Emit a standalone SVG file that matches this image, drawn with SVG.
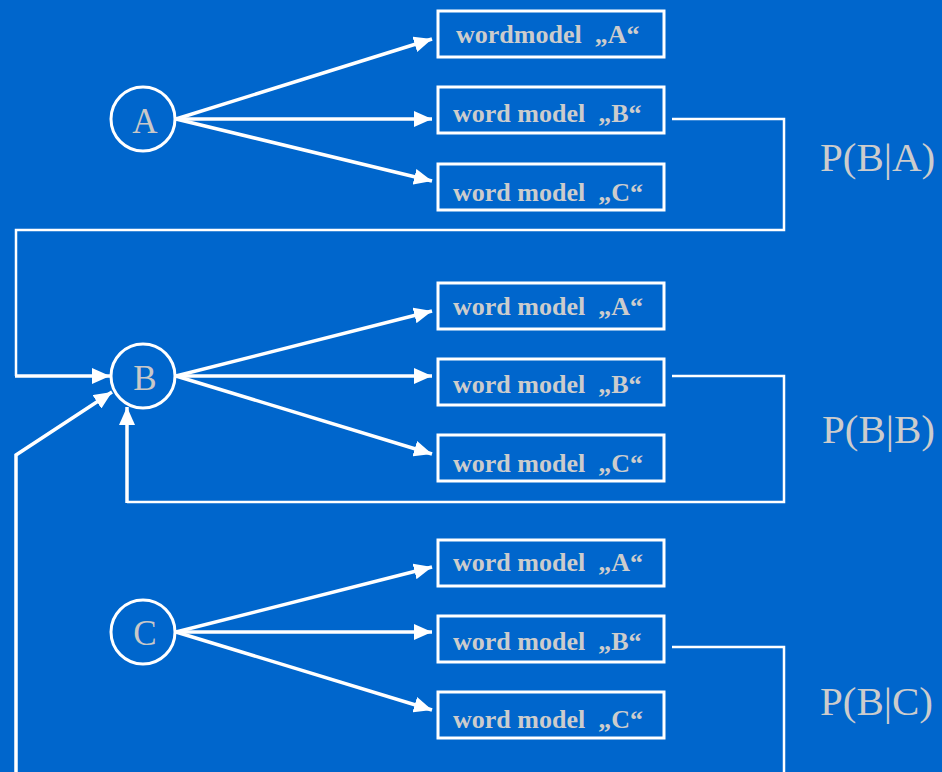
<svg xmlns="http://www.w3.org/2000/svg" width="942" height="772" viewBox="0 0 942 772">
<style>
.bg{fill:#0066CC}
.box{fill:none;stroke:#FFFFFF;stroke-width:3}
.circ{fill:none;stroke:#FFFFFF;stroke-width:3}
.lbl{font-family:"Liberation Serif",serif;font-weight:bold;font-size:26px;fill:#CCCCCC}
.cl{font-family:"Liberation Serif",serif;font-size:35px;fill:#C8C8C8;text-anchor:middle}
.pl{font-family:"Liberation Serif",serif;font-size:41px;fill:#CCCCCC}
.arr{stroke:#FFFFFF;stroke-width:3.5;fill:none;marker-end:url(#ah)}
.ln{stroke:#FFFFFF;stroke-width:2.5;fill:none}
</style>
<defs>
<marker id="ah" markerUnits="userSpaceOnUse" markerWidth="19" markerHeight="16" refX="18" refY="8" orient="auto">
<path d="M0,0 L18,8 L0,16 Z" fill="#FFFFFF"/>
</marker>
</defs>
<rect class="bg" x="0" y="0" width="942" height="772"/>
<g id="connectors">
<line class="arr" x1="176" y1="119" x2="432" y2="39"/>
<line class="arr" x1="176" y1="119" x2="432" y2="119"/>
<line class="arr" x1="176" y1="119" x2="432" y2="181"/>
<line class="arr" x1="176" y1="376" x2="432" y2="311"/>
<line class="arr" x1="176" y1="376" x2="432" y2="376"/>
<line class="arr" x1="176" y1="376" x2="432" y2="454"/>
<line class="arr" x1="176" y1="632" x2="432" y2="567"/>
<line class="arr" x1="176" y1="632" x2="432" y2="632"/>
<line class="arr" x1="176" y1="632" x2="432" y2="710"/>
<polyline class="ln" points="672,119 784,119 784,230 16,230 16,376"/>
<line class="arr" x1="15" y1="376" x2="110" y2="376"/>
<polyline class="ln" points="672,376 784,376 784,502 127,502"/>
<line class="arr" x1="127" y1="503" x2="127" y2="407"/>
<polyline class="ln" points="672,647 784,647 784,772"/>
<polyline class="arr" points="16,772 16,455 112,392"/>
</g>
<g id="nodeA"><circle class="circ" cx="143" cy="119" r="32"/><text class="cl" x="145" y="133">A</text></g>
<g id="nodeB"><circle class="circ" cx="143" cy="376" r="32"/><text class="cl" x="145" y="390">B</text></g>
<g id="nodeC"><circle class="circ" cx="143" cy="632" r="32"/><text class="cl" x="145" y="645">C</text></g>
<g id="boxA1"><rect class="box" x="438" y="11" width="226" height="46"/><text class="lbl" x="456" y="43" xml:space="preserve">wordmodel  „A“</text></g>
<g id="boxB1"><rect class="box" x="438" y="87" width="226" height="46"/><text class="lbl" x="453" y="122" xml:space="preserve">word model  „B“</text></g>
<g id="boxC1"><rect class="box" x="438" y="164" width="226" height="46"/><text class="lbl" x="453" y="201" xml:space="preserve">word model  „C“</text></g>
<g id="boxA2"><rect class="box" x="438" y="283" width="226" height="46"/><text class="lbl" x="453" y="315" xml:space="preserve">word model  „A“</text></g>
<g id="boxB2"><rect class="box" x="438" y="359" width="226" height="46"/><text class="lbl" x="453" y="393" xml:space="preserve">word model  „B“</text></g>
<g id="boxC2"><rect class="box" x="438" y="435" width="226" height="46"/><text class="lbl" x="453" y="472" xml:space="preserve">word model  „C“</text></g>
<g id="boxA3"><rect class="box" x="438" y="540" width="226" height="46"/><text class="lbl" x="453" y="571" xml:space="preserve">word model  „A“</text></g>
<g id="boxB3"><rect class="box" x="438" y="616" width="226" height="46"/><text class="lbl" x="453" y="650" xml:space="preserve">word model  „B“</text></g>
<g id="boxC3"><rect class="box" x="438" y="692" width="226" height="46"/><text class="lbl" x="453" y="728" xml:space="preserve">word model  „C“</text></g>
<g id="labels">
<text class="pl" x="820" y="171">P(B|A)</text>
<text class="pl" x="822" y="443">P(B|B)</text>
<text class="pl" x="820" y="715">P(B|C)</text>
</g>
</svg>
